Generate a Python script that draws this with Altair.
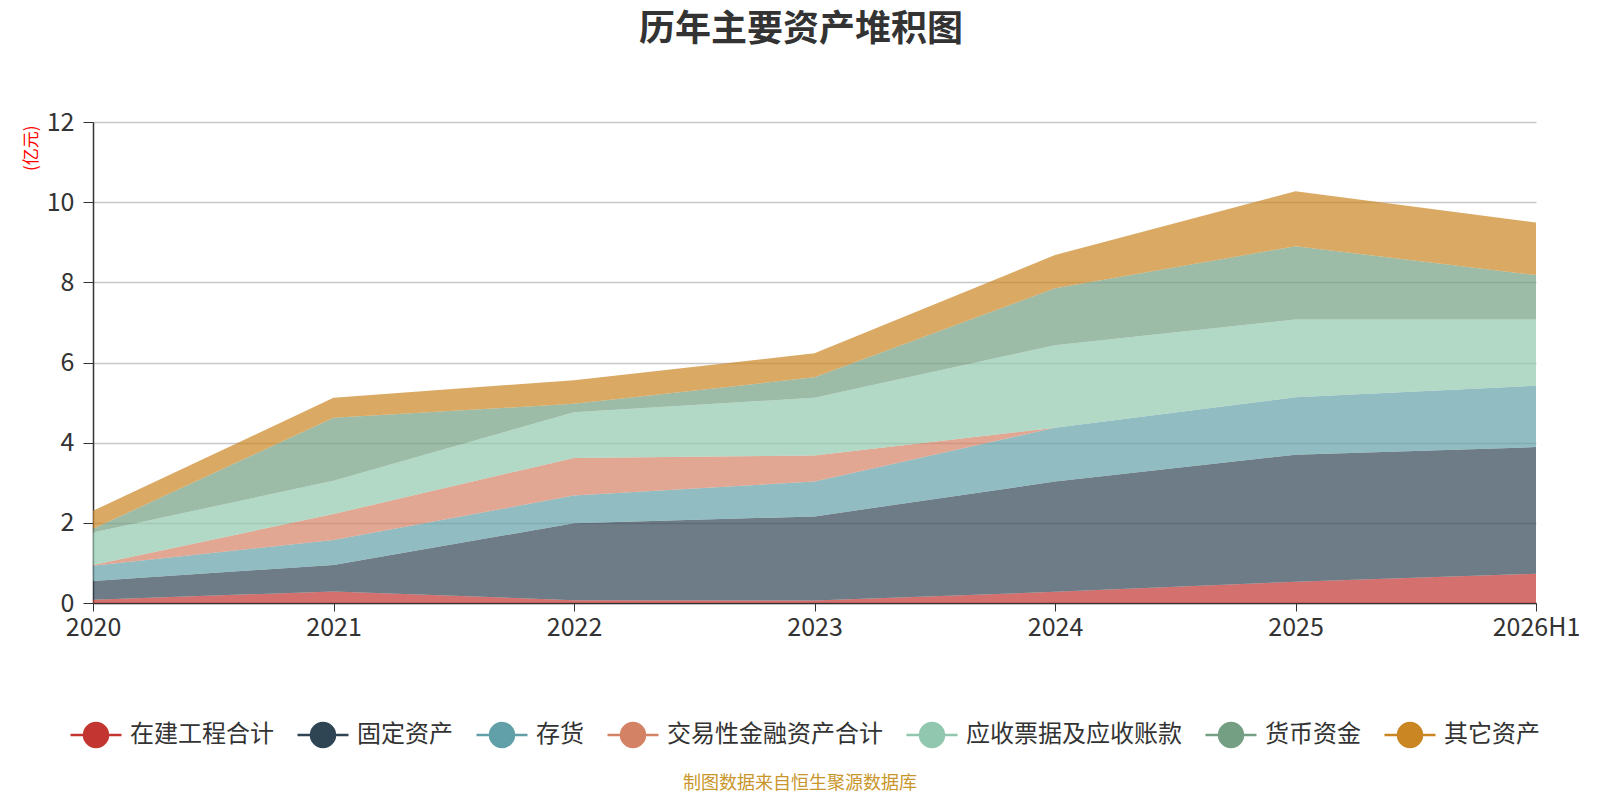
import altair as alt
import pandas as pd

years = ["2020", "2021", "2022", "2023", "2024", "2025", "2026H1"]
series = ["在建工程合计", "固定资产", "存货", "交易性金融资产合计", "应收票据及应收账款", "货币资金", "其它资产"]
colors = ["#c23531", "#2f4554", "#61a0a8", "#d48265", "#91c7ae", "#749f83", "#ca8622"]

construction = [0.08, 0.29, 0.07, 0.06, 0.28, 0.53, 0.73]
fixed_assets = [0.47, 0.66, 1.92, 2.10, 2.75, 3.17, 3.16]
inventory = [0.38, 0.62, 0.69, 0.87, 1.34, 1.43, 1.53]
trading_fin = [0.02, 0.65, 0.94, 0.65, 0.0, 0.0, 0.0]
receivables = [0.81, 0.83, 1.14, 1.44, 2.06, 1.94, 1.65]
cash = [0.09, 1.57, 0.21, 0.51, 1.42, 1.83, 1.11]
other = [0.45, 0.50, 0.59, 0.60, 0.83, 1.37, 1.31]

values = [construction, fixed_assets, inventory, trading_fin, receivables, cash, other]

rows = []
for i, (name, vals) in enumerate(zip(series, values)):
    for y, v in zip(years, vals):
        rows.append({"year": y, "series": name, "value": v, "idx": i})
df = pd.DataFrame(rows)

FONT = "Noto Sans CJK SC"
W, H = 1443, 481

legend_path = ("M-1,0L1,0M0.47,0A0.47,0.47 0 1,1 -0.47,0A0.47,0.47 0 1,1 0.47,0Z")

leg = alt.Legend(
    title=None, orient="none", direction="horizontal",
    legendX=-24, legendY=586, columns=7,
    symbolType=legend_path, symbolSize=2601,
    symbolOpacity=1, symbolStrokeWidth=2.5,
    labelFontSize=24, labelColor="#333", labelFont=FONT, labelLimit=400,
    labelOffset=7, columnPadding=18)

area = alt.Chart(df).mark_area(opacity=0.7, interpolate="linear", strokeWidth=0).encode(
    x=alt.X("year:O", sort=years,
            scale=alt.Scale(type="point", padding=0),
            axis=alt.Axis(title=None, labelAngle=0, labelFontSize=25, labelColor="#333",
                          domainColor="#333", domainWidth=1.5, tickColor="#333",
                          tickSize=8, labelPadding=4, grid=False, labelFont=FONT)),
    y=alt.Y("value:Q", stack="zero",
            scale=alt.Scale(domain=[0, 12], nice=False),
            axis=alt.Axis(title="(亿元)", titleColor="red", titleFontSize=17,
                          titleFontWeight="normal", titleFont=FONT,
                          values=[0, 2, 4, 6, 8, 10, 12], labelFontSize=25,
                          labelColor="#333", labelFont=FONT, domainColor="#333",
                          domainWidth=1.5, tickColor="#333", tickSize=10,
                          labelPadding=9, gridColor="#c8c8c8", gridWidth=1.5,
                          titleAlign="right", titleAnchor="end", titleY=3, titleX=-53)),
    fill=alt.Fill("series:N", scale=alt.Scale(domain=series, range=colors), legend=leg),
    stroke=alt.Stroke("series:N", scale=alt.Scale(domain=series, range=colors), legend=leg),
    order=alt.Order("idx:Q", sort="ascending"),
)

footer = alt.Chart(pd.DataFrame({"t": ["制图数据来自恒生聚源数据库"]})).mark_text(
    font=FONT, fontSize=18, color="#c9962b", align="center", baseline="middle"
).encode(text="t:N", x=alt.value(707), y=alt.value(662))

chart = alt.layer(area, footer).properties(
    width=W, height=H,
    title=alt.TitleParams("历年主要资产堆积图", fontSize=36, fontWeight="bold",
                          color="#333", font=FONT, anchor="middle", frame="bounds",
                          offset=61),
    padding={"left": 14, "top": 4, "right": 0, "bottom": 0},
).configure_view(stroke=None)

chart.save("out.html", embed_options={"renderer": "svg", "actions": False})
